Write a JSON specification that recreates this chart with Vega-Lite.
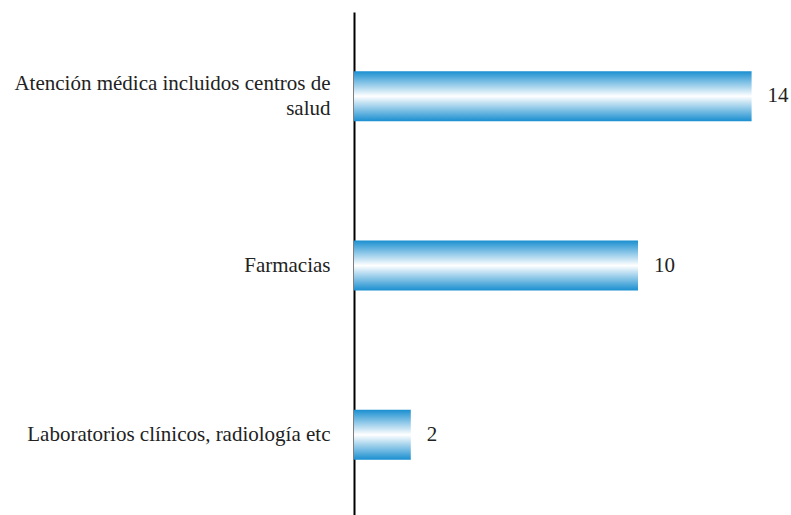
{
  "$schema": "https://vega.github.io/schema/vega-lite/v6.json",
  "autosize": "none",
  "padding": {"left": 354, "top": 12, "right": 11, "bottom": 0},
  "width": 426,
  "height": 507,
  "background": "white",
  "config": {"view": {"stroke": null}, "font": "Liberation Serif"},
  "data": {"values": [
    {"categoria": "Atención médica incluidos centros de salud", "valor": 14},
    {"categoria": "Farmacias", "valor": 10},
    {"categoria": "Laboratorios clínicos, radiología etc", "valor": 2}
  ]},
  "encoding": {
    "y": {"field": "categoria", "type": "nominal", "sort": null,
      "scale": {"paddingInner": 0.705, "paddingOuter": 0.35},
      "axis": {"title": null, "ticks": false, "domainColor": "black", "domainWidth": 2,
        "labelFont": "Liberation Serif", "labelFontSize": 21, "labelColor": "#222", "labelPadding": 24, "labelLimit": 400, "labelLineHeight": 25,
        "labelOffset": {"condition": {"test": "datum.value == 'Atención médica incluidos centros de salud'", "value": -12}, "value": 0},
        "labelExpr": "datum.value == 'Atención médica incluidos centros de salud' ? ['Atención médica incluidos centros de', 'salud'] : datum.value"}},
    "x": {"field": "valor", "type": "quantitative", "scale": {"domain": [0, 15]}, "axis": null}
  },
  "layer": [
    {"mark": {"type": "bar", "x": 1,
      "color": {"gradient": "linear", "x1": 0, "y1": 0, "x2": 0, "y2": 1,
        "stops": [{"offset": 0, "color": "#1a8fd0"}, {"offset": 0.5, "color": "#ffffff"}, {"offset": 1, "color": "#1a8fd0"}]}},
     "encoding": {"x2": {"datum": 0}}},
    {"mark": {"type": "text", "align": "left", "dx": 16, "font": "Liberation Serif", "fontSize": 21, "color": "#222"},
     "encoding": {"text": {"field": "valor", "type": "quantitative"}}}
  ]
}
